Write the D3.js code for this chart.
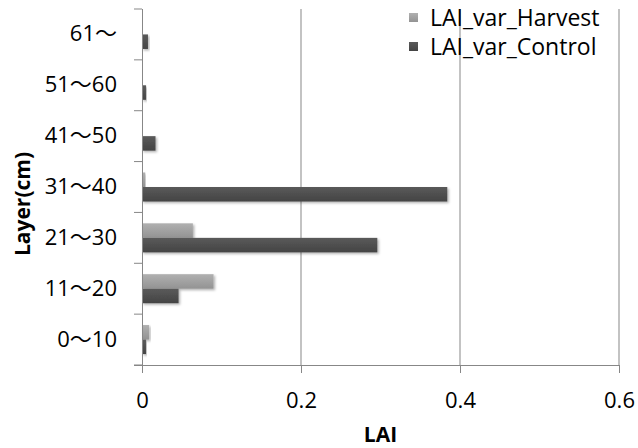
<!DOCTYPE html>
<html>
<head>
<meta charset="utf-8">
<script src="https://cdn.jsdelivr.net/npm/d3@7"></script>
<style>
  html, body { margin: 0; padding: 0; background: #fff; }
  svg { display: block; }
  text { font-family: "Open Sans", "Noto Sans CJK JP", sans-serif; fill: #000; }
</style>
</head>
<body>
<svg id="chart" width="638" height="448"></svg>
<script>
// Layers from the ground up
const categories = ["0～10", "11～20", "21～30", "31～40", "41～50", "51～60", "61～"];
const seriesNames = ["LAI_var_Harvest", "LAI_var_Control"];
const harvest = [0.009, 0.090, 0.064, 0.004, 0, 0, 0];
const control = [0.005, 0.046, 0.296, 0.384, 0.017, 0.005, 0.0075];
const xTicks = [0, 0.2, 0.4, 0.6];

const svg = d3.select("#chart");
const plotLeft = 142, plotRight = 619, plotTop = 9, plotBottom = 365;

const x = d3.scaleLinear().domain([0, 0.6]).range([plotLeft, plotRight]);
const y = d3.scaleBand().domain(categories.slice().reverse()).range([plotTop, plotBottom]);
const inner = d3.scaleBand().domain(seriesNames).range([0, y.bandwidth()]).paddingOuter(0.75);

const colors = { "LAI_var_Harvest": ["#b0b0b0", "#939393"], "LAI_var_Control": ["#5a5a5a", "#444444"] };

const defs = svg.append("defs");
seriesNames.forEach((s, i) => {
  const g = defs.append("linearGradient").attr("id", "grad" + i)
    .attr("x1", 0).attr("y1", 0).attr("x2", 0).attr("y2", 1);
  g.append("stop").attr("offset", "0%").attr("stop-color", colors[s][0]);
  g.append("stop").attr("offset", "100%").attr("stop-color", colors[s][1]);
});
const shadow = defs.append("filter").attr("id", "shadow")
  .attr("x", "-20%").attr("y", "-50%").attr("width", "140%").attr("height", "200%");
shadow.append("feDropShadow").attr("dx", 1.5).attr("dy", 1.5).attr("stdDeviation", 1.2)
  .attr("flood-color", "#000").attr("flood-opacity", 0.3);

// Vertical gridlines
svg.append("g").selectAll("line").data(xTicks.slice(1)).join("line")
  .attr("x1", d => x(d)).attr("x2", d => x(d))
  .attr("y1", plotTop).attr("y2", plotBottom)
  .attr("stroke", "#878787").attr("stroke-width", 1);

// Bars
const rows = categories.map((c, i) => ({ cat: c, values: [harvest[i], control[i]] }));
const groups = svg.append("g").selectAll("g").data(rows).join("g")
  .attr("transform", d => `translate(0,${y(d.cat)})`);
groups.selectAll("rect").data(d => d.values.map((v, i) => ({ key: seriesNames[i], v, i })).filter(d => d.v > 0))
  .join("rect")
  .attr("x", x(0))
  .attr("y", d => inner(d.key))
  .attr("width", d => x(d.v) - x(0))
  .attr("height", inner.bandwidth())
  .attr("fill", d => `url(#grad${d.i})`)
  .attr("filter", "url(#shadow)");

// Axes
const xAxis = svg.append("g").attr("transform", `translate(0,${plotBottom})`)
  .call(d3.axisBottom(x).tickValues(xTicks).tickFormat(d3.format("")).tickSize(8).tickPadding(19));
const yAxis = svg.append("g").attr("transform", `translate(${plotLeft},0)`)
  .call(d3.axisLeft(y).tickSize(0).tickPadding(25));
// category boundary ticks
const bounds = categories.map(c => y(c)).concat([plotBottom]);
svg.append("g").selectAll("line").data(bounds).join("line")
  .attr("x1", plotLeft - 8).attr("x2", plotLeft).attr("y1", d => d).attr("y2", d => d)
  .attr("stroke", "#878787");

[xAxis, yAxis].forEach(a => {
  a.select(".domain").attr("stroke", "#878787");
  a.selectAll(".tick line").attr("stroke", "#878787");
  a.selectAll(".tick text").attr("font-size", 22).attr("fill", "#000")
    .style("font-family", '"Open Sans", "Noto Sans CJK JP", sans-serif');
});
xAxis.select(".domain").attr("d", `M${plotLeft - 8},0.5H${plotRight}`);
yAxis.select(".domain").attr("d", `M0.5,${plotTop}V${plotBottom + 8}`);

// Axis titles
svg.append("text").attr("x", (plotLeft + plotRight) / 2).attr("y", 442)
  .attr("text-anchor", "middle").attr("font-size", 21).attr("font-weight", "bold").text("LAI");
svg.append("text").attr("transform", "translate(30,204) rotate(-90)")
  .attr("text-anchor", "middle").attr("font-size", 21).attr("font-weight", "bold").text("Layer(cm)");

// Legend
const legend = svg.append("g").attr("transform", "translate(409,0)");
seriesNames.forEach((s, i) => {
  const g = legend.append("g").attr("transform", `translate(0,${13 + i * 29})`);
  g.append("rect").attr("width", 9).attr("height", 9).attr("fill", `url(#grad${i})`);
  g.append("text").attr("x", 21).attr("y", 4.5).attr("dy", "0.36em")
    .attr("font-size", 23).text(s);
});
</script>
</body>
</html>
